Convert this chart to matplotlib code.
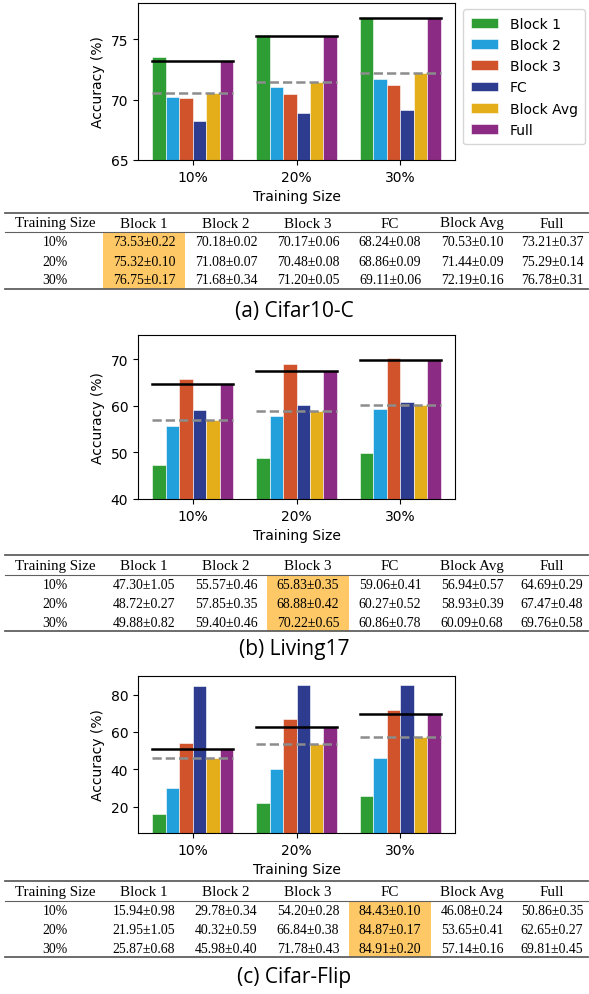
import numpy as np
import matplotlib
matplotlib.use('Agg')
import matplotlib.pyplot as plt
from matplotlib.patches import Rectangle

# Dữ liệu đọc từ bảng
sizes = ['10%', '20%', '30%']
methods = ['Block 1', 'Block 2', 'Block 3', 'FC', 'Block Avg', 'Full']
colors = ['#2e9e34', '#22a0dc', '#d0532b', '#2e3c8f', '#e4ae1b', '#8b2b83']

cifar10c_mean = [[73.53, 70.18, 70.17, 68.24, 70.53, 73.21],
                 [75.32, 71.08, 70.48, 68.86, 71.44, 75.29],
                 [76.75, 71.68, 71.20, 69.11, 72.19, 76.78]]
cifar10c_std = [[0.22, 0.02, 0.06, 0.08, 0.10, 0.37],
                [0.10, 0.07, 0.08, 0.09, 0.09, 0.14],
                [0.17, 0.34, 0.05, 0.06, 0.16, 0.31]]

living17_mean = [[47.30, 55.57, 65.83, 59.06, 56.94, 64.69],
                 [48.72, 57.85, 68.88, 60.27, 58.93, 67.47],
                 [49.88, 59.40, 70.22, 60.86, 60.09, 69.76]]
living17_std = [[1.05, 0.46, 0.35, 0.41, 0.57, 0.29],
                [0.27, 0.35, 0.42, 0.52, 0.39, 0.48],
                [0.82, 0.46, 0.65, 0.78, 0.68, 0.58]]

cifarflip_mean = [[15.94, 29.78, 54.20, 84.43, 46.08, 50.86],
                  [21.95, 40.32, 66.84, 84.87, 53.65, 62.65],
                  [25.87, 45.98, 71.78, 84.91, 57.14, 69.81]]
cifarflip_std = [[0.98, 0.34, 0.28, 0.10, 0.24, 0.35],
                 [1.05, 0.59, 0.38, 0.17, 0.41, 0.27],
                 [0.68, 0.40, 0.43, 0.20, 0.16, 0.45]]

panels = [
    dict(mean=cifar10c_mean, std=cifar10c_std, ylim=(65, 78), yticks=[65, 70, 75],
         best=0, caption='(a) Cifar10-C',
         ax_rect=(138, 4, 455, 161), table_y=(214, 233, 290), cap_y=312),
    dict(mean=living17_mean, std=living17_std, ylim=(40, 75.2), yticks=[40, 50, 60, 70],
         best=2, caption='(b) Living17',
         ax_rect=(138, 336, 455, 500), table_y=(556, 576, 632), cap_y=650),
    dict(mean=cifarflip_mean, std=cifarflip_std, ylim=(5.94, 89.91), yticks=[20, 40, 60, 80],
         best=3, caption='(c) Cifar-Flip',
         ax_rect=(138, 677, 455, 834), table_y=(882, 902, 958), cap_y=978),
]

W, H = 589, 995
fig = plt.figure(figsize=(W / 100, H / 100), dpi=100)

# lớp phủ để vẽ bảng theo toạ độ pixel
tax = fig.add_axes([0, 0, 1, 1], zorder=0)
tax.set_xlim(0, W)
tax.set_ylim(H, 0)
tax.axis('off')

col_edges = [5, 103, 185, 267, 349, 431, 513, 588]
col_centers = [55, 144, 226, 308, 390, 472, 552]
serif = 'Liberation Serif'
hfs = 10.8   # cỡ chữ tiêu đề bảng
vfs = 9.9    # cỡ chữ số liệu
bw = 0.13
x = np.arange(len(sizes))

for i, p in enumerate(panels):
    l, t, r, b = p['ax_rect']
    ax = fig.add_axes([l / W, 1 - b / H, (r - l) / W, (b - t) / H], zorder=2)
    mean = np.array(p['mean'])
    for k, m in enumerate(methods):
        ax.bar(x + (k - 2.5) * bw, mean[:, k], bw, color=colors[k], label=m,
               edgecolor='white', linewidth=0.4)
    for g in range(len(sizes)):
        ax.plot([g - 3 * bw, g + 3 * bw], [mean[g, 5]] * 2, color='black', lw=1.8, zorder=3)
        ax.plot([g - 3 * bw, g + 3 * bw], [mean[g, 4]] * 2, color='#8c8c8c', lw=1.8,
                ls='--', zorder=3)
    ax.set_ylim(*p['ylim'])
    ax.set_yticks(p['yticks'])
    ax.set_xticks(x)
    ax.set_xticklabels(sizes)
    ax.tick_params(labelsize=10)
    ax.set_xlabel('Training Size', fontsize=10)
    ax.set_ylabel('Accuracy (%)', fontsize=10)
    if i == 0:
        ax.legend(loc='upper left', bbox_to_anchor=(463 / W, 1 - 10 / H),
                  bbox_transform=fig.transFigure, borderaxespad=0, fontsize=10,
                  borderpad=0.55, labelspacing=0.52)

    # bảng
    y0, y1, y2 = p['table_y']
    bc = p['best'] + 1
    tax.add_patch(Rectangle((col_edges[bc], y1), col_edges[bc + 1] - col_edges[bc], y2 - y1,
                            facecolor='#fec866', edgecolor='none'))
    tax.plot([5, 588], [y0, y0], color='#606060', lw=1.3)
    tax.plot([5, 588], [y1, y1], color='#606060', lw=0.8)
    tax.plot([5, 588], [y2, y2], color='#606060', lw=1.3)
    header = ['Training Size'] + methods
    for c, h in enumerate(header):
        tax.text(col_centers[c], (y0 + y1) / 2 + 0.5, h, ha='center', va='center',
                 family=serif, fontsize=hfs)
    rh = (y2 - y1) / 3
    for g in range(len(sizes)):
        yy = y1 + rh * (g + 0.5) + 0.5
        tax.text(col_centers[0], yy, sizes[g], ha='center', va='center', family=serif, fontsize=vfs)
        for k in range(len(methods)):
            s = f"{p['mean'][g][k]:.2f}±{p['std'][g][k]:.2f}"
            tax.text(col_centers[k + 1], yy, s, ha='center', va='center', family=serif, fontsize=vfs)
    tax.text(W / 2, p['cap_y'], p['caption'], ha='center', va='center',
             family='Open Sans', fontsize=15)

fig.savefig('out.png', dpi=100)
